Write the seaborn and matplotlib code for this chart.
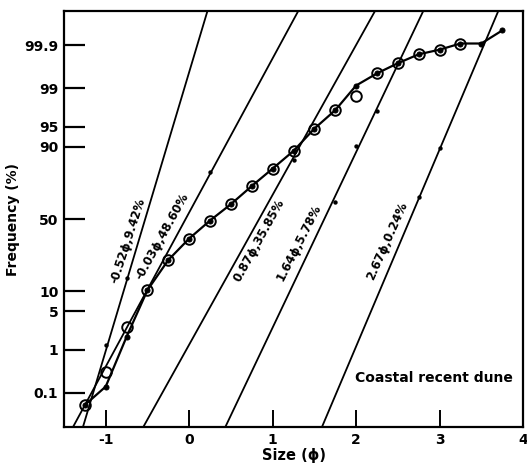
import numpy as np
import pandas as pd
import matplotlib
matplotlib.use("Agg")
import matplotlib.pyplot as plt
import seaborn as sns
from statistics import NormalDist

# ---------------- data ----------------
size_phi = [-1.25, -1.0, -0.75, -0.5, -0.25, 0.0, 0.25, 0.5, 0.75, 1.0, 1.25,
            1.5, 1.75, 2.0, 2.25, 2.5, 2.75, 3.0, 3.25, 3.5, 3.75]
cum_freq = [0.047, 0.144, 1.81, 10.3, 23.3, 36.4, 48.9, 60.4, 72.1, 81.5, 88.7,
            94.6, 97.35, 99.12, 99.52, 99.72, 99.83, 99.87, 99.91, 99.91, 99.96]

circle_phi = [-1.25, -1.0, -0.75, -0.5, -0.25, 0.0, 0.25, 0.5, 0.75, 1.0, 1.25,
              1.5, 1.75, 2.0, 2.25, 2.5, 2.75, 3.0, 3.25]
circle_freq = [0.047, 0.33, 2.77, 10.3, 23.3, 36.4, 48.9, 60.4, 72.1, 81.5, 88.7,
               94.6, 97.35, 98.54, 99.52, 99.72, 99.83, 99.87, 99.91]

comp_labels = ["-0.52ϕ,9.42%", "-0.03ϕ,48.60%", "0.87ϕ,35.85%",
               "1.64ϕ,5.78%", "2.67ϕ,0.24%"]
comp_phi_low = [-1.273, -1.392, -0.550, 0.433, 1.591]
comp_phi_high = [0.219, 1.307, 2.227, 2.805, 3.704]
comp_freq_low = 0.0108
comp_freq_high = 99.9892

comp_dot_phi = [-1.0, -0.75, 0.25, 1.25, 1.75, 2.0, 2.25, 2.75, 3.0]
comp_dot_freq = [1.25, 14.6, 80.0, 85.3, 62.1, 90.4, 97.3, 64.9, 89.6]

y_ticks = [0.1, 1, 5, 10, 50, 90, 95, 99, 99.9]
y_ticklabels = ["0.1", "1", "5", "10", "50", "90", "95", "99", "99.9"]
x_ticks = [-1, 0, 1, 2, 3, 4]

# ---------------- layout (not data) ----------------
label_pos = [(-0.739, 34.8, 72), (-0.320, 38.1, 61), (0.836, 35.4, 61),
             (1.316, 33.5, 63), (2.376, 34.8, 66)]

sns.set_style("white")
plt.rcParams["font.family"] = ["DejaVu Sans"]
plt.rcParams["text.color"] = "black"
plt.rcParams["axes.labelcolor"] = "black"
plt.rcParams["xtick.color"] = "black"
plt.rcParams["ytick.color"] = "black"

fig = plt.figure(figsize=(5.27, 4.74), dpi=100)
ax = fig.add_axes([64 / 527, 1 - 427 / 474, 459 / 527, 416 / 474])

_nd = NormalDist()
_ppf = np.vectorize(_nd.inv_cdf, otypes=[float])
_cdf = np.vectorize(_nd.cdf, otypes=[float])


def fwd(p):
    p = np.asarray(p, dtype=float)
    q = np.clip(p / 100.0, 1e-9, 1 - 1e-9)
    return _ppf(q)


def inv(z):
    z = np.asarray(z, dtype=float)
    return _cdf(z) * 100.0


ax.set_yscale("function", functions=(fwd, inv))

# component straight lines
for i, lab in enumerate(comp_labels):
    df_line = pd.DataFrame({"phi": [comp_phi_low[i], comp_phi_high[i]],
                            "freq": [comp_freq_low, comp_freq_high]})
    sns.lineplot(data=df_line, x="phi", y="freq", color="black", lw=1.3,
                 estimator=None, sort=False, ax=ax, zorder=2)

sns.scatterplot(x=comp_dot_phi, y=comp_dot_freq, color="black", s=10,
                linewidth=0, ax=ax, zorder=3)

# main cumulative curve
df_main = pd.DataFrame({"phi": size_phi, "freq": cum_freq})
sns.lineplot(data=df_main, x="phi", y="freq", color="black", lw=1.6,
             marker="o", markersize=3.6, markeredgecolor="black",
             estimator=None, sort=False, ax=ax, zorder=4)

# open circles
df_circ = pd.DataFrame({"phi": circle_phi, "freq": circle_freq})
sns.lineplot(data=df_circ, x="phi", y="freq", linestyle="", marker="o",
             markersize=7.6, markerfacecolor="none", markeredgecolor="black",
             markeredgewidth=1.4, estimator=None, sort=False, ax=ax, zorder=5)

# component labels
for lab, (px, py, rot) in zip(comp_labels, label_pos):
    ax.text(px, py, lab, rotation=rot, rotation_mode="anchor", ha="center",
            va="center", fontsize=8.5, fontweight="bold", color="black")

ax.text(0.634, 0.117, "Coastal recent dune", transform=ax.transAxes,
        ha="left", va="center", fontsize=10, fontweight="bold", color="black")

ax.set_xlim(-1.5, 4.0)
ax.set_ylim(comp_freq_low, comp_freq_high)
ax.set_yticks(y_ticks)
ax.set_yticklabels(y_ticklabels)
ax.set_xticks(x_ticks)
ax.set_xticklabels([str(t) for t in x_ticks])
ax.minorticks_off()

ax.tick_params(axis="y", direction="in", length=15, width=1.6, pad=4,
               labelsize=10, left=True, right=False, colors="black")
ax.tick_params(axis="x", direction="in", length=12, width=1.4, pad=4,
               labelsize=10, bottom=True, top=False, colors="black")
for t in ax.get_xticklabels() + ax.get_yticklabels():
    t.set_fontweight("bold")

for s in ax.spines.values():
    s.set_visible(True)
    s.set_linewidth(1.6)
    s.set_color("black")

ax.set_xlabel("Size (ϕ)", fontsize=10.5, fontweight="bold", labelpad=1,
              color="black")
ax.set_ylabel("Frequency (%)", fontsize=10, fontweight="bold", labelpad=3,
              color="black")
ax.grid(False)
if ax.get_legend() is not None:
    ax.get_legend().remove()

fig.savefig("out.png", dpi=100)
